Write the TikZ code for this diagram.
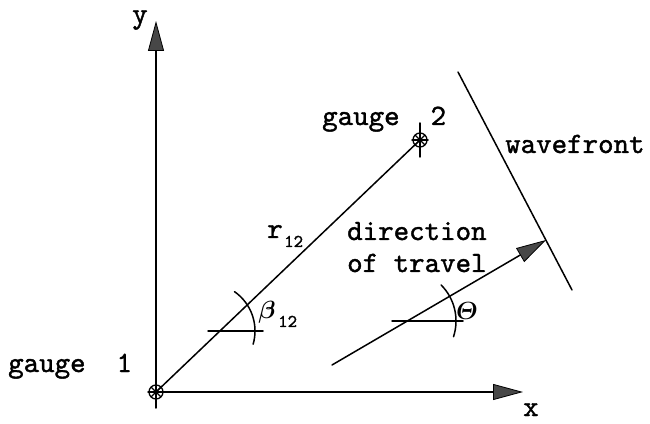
\documentclass[tikz,border=0pt]{standalone}
\usepackage{amsmath}
\usepackage{fontspec}
\newfontfamily\tw{lmmono10-regular.otf}[FakeBold=1.3]
\usetikzlibrary{arrows.meta}
\tikzset{
  ln/.style={line width=1.5pt, line cap=round},
  axarrow/.style={ln, -{Triangle[length=30pt,width=16pt,fill=black!72,line width=0.8pt]}},
  gauge/.style={circle, draw, line width=1.3pt, minimum size=14pt, inner sep=0pt,
    path picture={\draw[line width=1.2pt] (path picture bounding box.north west) -- (path picture bounding box.south east)
      (path picture bounding box.north east) -- (path picture bounding box.south west);}},
  lbl/.style={inner sep=0pt, anchor=base west, font=\fontsize{29.5}{30}\selectfont\tw},
  sub/.style={inner sep=0pt, anchor=base west, font=\fontsize{18}{18}\selectfont\tw},
}
\begin{document}
\begin{tikzpicture}[x=1pt,y=1pt]
\useasboundingbox (0,0) rectangle (650,423);
% gauges
\node[gauge] (g1) at (156,31) {};
\node[gauge] (g2) at (420,283) {};
\draw[ln] ([yshift=16pt]g1.center) -- ([yshift=-16pt]g1.center);
\draw[ln] ([xshift=-8pt]g1.center) -- ([xshift=8pt]g1.center);
\draw[ln] ([yshift=17pt]g2.center) -- ([yshift=-17pt]g2.center);
\draw[ln] ([xshift=-8pt]g2.center) -- ([xshift=8pt]g2.center);
% axes
\coordinate (ytip) at (156,402);
\coordinate (xtip) at (523,31);
\draw[axarrow] (g1.center) -- (ytip);
\draw[axarrow] (g1.center) -- (xtip);
% baseline r12
\draw[ln] (g1.center) -- (g2.center);
% beta angle
\coordinate (bh1) at (208,92);
\coordinate (bh2) at (263,92);
\draw[ln] (bh1) -- (bh2);
\coordinate (bc) at (207,92);
\draw[ln] ([shift={(-16:48pt)}]bc) arc[start angle=-16, end angle=55, radius=48pt];
% direction of travel
\coordinate (ds) at (332,58);
\coordinate (dt) at (546,183);
\draw[axarrow] (ds) -- (dt);
\coordinate (th1) at (392,102);
\coordinate (th2) at (463,102);
\draw[ln] (th1) -- (th2);
\coordinate (tc) at (405,102);
\draw[ln] ([shift={(-18:51pt)}]tc) arc[start angle=-18, end angle=45, radius=51pt];
% wavefront
\coordinate (w1) at (458,351);
\coordinate (w2) at (572,133);
\draw[ln] (w1) -- (w2);
% labels
\node[lbl] (ly) at (132,400) {y};
\node[lbl] (lx) at (523,7) {x};
\node[lbl] (lg1) at (8,51) {gauge\ \ 1};
\node[lbl] (lg2) at (322,298) {gauge\ \ 2};
\node[lbl] (lw) at (505,270) {wavefront};
\node[lbl] (ld1) at (347,183) {direction};
\node[lbl] (ld2) at (347,151) {of travel};
\node[lbl] (lr) at (267,185) {r};
\node[sub] (lr12) at (284,176) {12};
\node[inner sep=0pt, font=\fontsize{26}{26}\selectfont] (lb) at (267,111) {$\boldsymbol{\beta}$};
\node[sub] (lb12) at (278,96) {12};
\node[inner sep=0pt, font=\fontsize{26}{26}\selectfont, xslant=0.15, transform shape] (lt) at (467,112) {$\boldsymbol{\Theta}$};
\end{tikzpicture}
\end{document}
